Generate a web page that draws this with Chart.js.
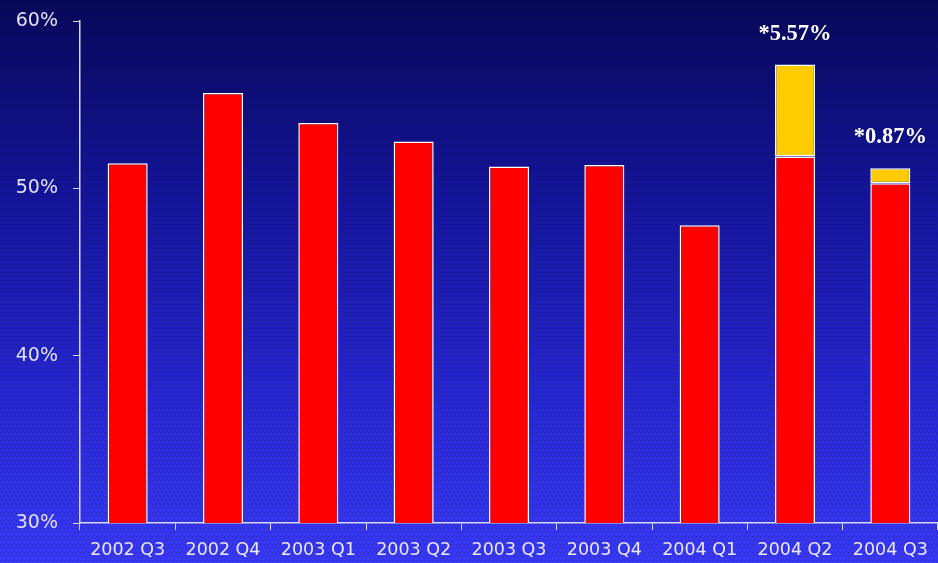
<!DOCTYPE html>
<html>
<head>
<meta charset="utf-8">
<script src="https://cdn.jsdelivr.net/npm/chart.js@4/dist/chart.umd.min.js"></script>
<style>
  html, body { margin: 0; padding: 0; background: #0a0a60; }
  #wrap { width: 938px; height: 563px; position: relative; }
</style>
</head>
<body>
<div id="wrap"><canvas id="c" width="938" height="563"></canvas></div>
<script>
const categories = ['2002 Q3','2002 Q4','2003 Q1','2003 Q2','2003 Q3','2003 Q4','2004 Q1','2004 Q2','2004 Q3'];
const baseValues = [51.5, 55.7, 53.9, 52.8, 51.3, 51.4, 47.8, 51.9, 50.3];
const extraValues = [null, null, null, null, null, null, null, 5.5, 0.9];
const extraLabels = [null, null, null, null, null, null, null, '*5.57%', '*0.87%'];
const yTicks = [30, 40, 50, 60];

const bgPlugin = {
  id: 'bg',
  beforeDraw(chart) {
    const ctx = chart.ctx;
    const g = ctx.createLinearGradient(0, 0, 0, chart.height);
    g.addColorStop(0, '#08085a');
    g.addColorStop(0.35, '#14149a');
    g.addColorStop(0.7, '#2626d0');
    g.addColorStop(1, '#3838f4');
    ctx.save();
    ctx.fillStyle = g;
    ctx.fillRect(0, 0, chart.width, chart.height);
    ctx.fillStyle = 'rgba(0,0,40,0.25)';
    for (let y = 0; y < chart.height; y += 4) {
      for (let x = (y / 4) % 2 ? 2 : 0; x < chart.width; x += 4) {
        ctx.fillRect(x, y, 1, 1);
      }
    }
    ctx.restore();
  }
};

const labelPlugin = {
  id: 'extraLabels',
  afterDatasetsDraw(chart) {
    const meta = chart.getDatasetMeta(1);
    const ctx = chart.ctx;
    ctx.save();
    ctx.font = 'bold 22.5px "Liberation Serif", "Times New Roman", serif';
    ctx.fillStyle = '#ffffff';
    ctx.textAlign = 'center';
    ctx.textBaseline = 'alphabetic';
    meta.data.forEach((bar, i) => {
      if (extraLabels[i]) {
        ctx.fillText(extraLabels[i], bar.x, bar.y - 25);
      }
    });
    ctx.restore();
  }
};

new Chart(document.getElementById('c'), {
  type: 'bar',
  data: {
    labels: categories,
    datasets: [
      {
        data: baseValues,
        backgroundColor: '#ff0000',
        borderColor: '#ffffff',
        borderWidth: 1.5,
        borderSkipped: false,
        barPercentage: 0.42,
        categoryPercentage: 1.0
      },
      {
        data: extraValues,
        backgroundColor: '#ffcc00',
        borderColor: '#ffffff',
        borderWidth: 1.5,
        borderSkipped: false,
        barPercentage: 0.42,
        categoryPercentage: 1.0
      }
    ]
  },
  options: {
    responsive: false,
    animation: false,
    layout: { padding: { top: 21, right: 0, left: 0, bottom: 0 } },
    plugins: { legend: { display: false }, tooltip: { enabled: false } },
    scales: {
      x: {
        stacked: true,
        offset: true,
        border: { display: true, color: '#d8d8f0', width: 1.5 },
        grid: { display: true, drawOnChartArea: false, drawTicks: true, tickLength: 7, color: '#d8d8f0', offset: true },
        ticks: { color: '#e8e8ff', font: { family: '"DejaVu Sans", Verdana, sans-serif', size: 17.5 }, padding: 10, maxRotation: 0 },
        afterFit(s) { s.height = 40; s.paddingLeft = 0; s.paddingRight = 0; }
      },
      y: {
        stacked: true,
        min: 30,
        max: 60,
        afterBuildTicks(s) { s.ticks = yTicks.map(v => ({ value: v })); },
        border: { display: true, color: '#d8d8f0', width: 1.5 },
        grid: { display: true, drawOnChartArea: false, drawTicks: true, tickLength: 7, color: '#d8d8f0' },
        ticks: { color: '#e0e0f8', font: { family: '"DejaVu Sans", Verdana, sans-serif', size: 19 }, padding: 15, callback: v => v + '%' },
        afterFit(s) { s.width = 80; s.paddingTop = 0; s.paddingBottom = 0; }
      }
    }
  },
  plugins: [bgPlugin, labelPlugin]
});
</script>
</body>
</html>
